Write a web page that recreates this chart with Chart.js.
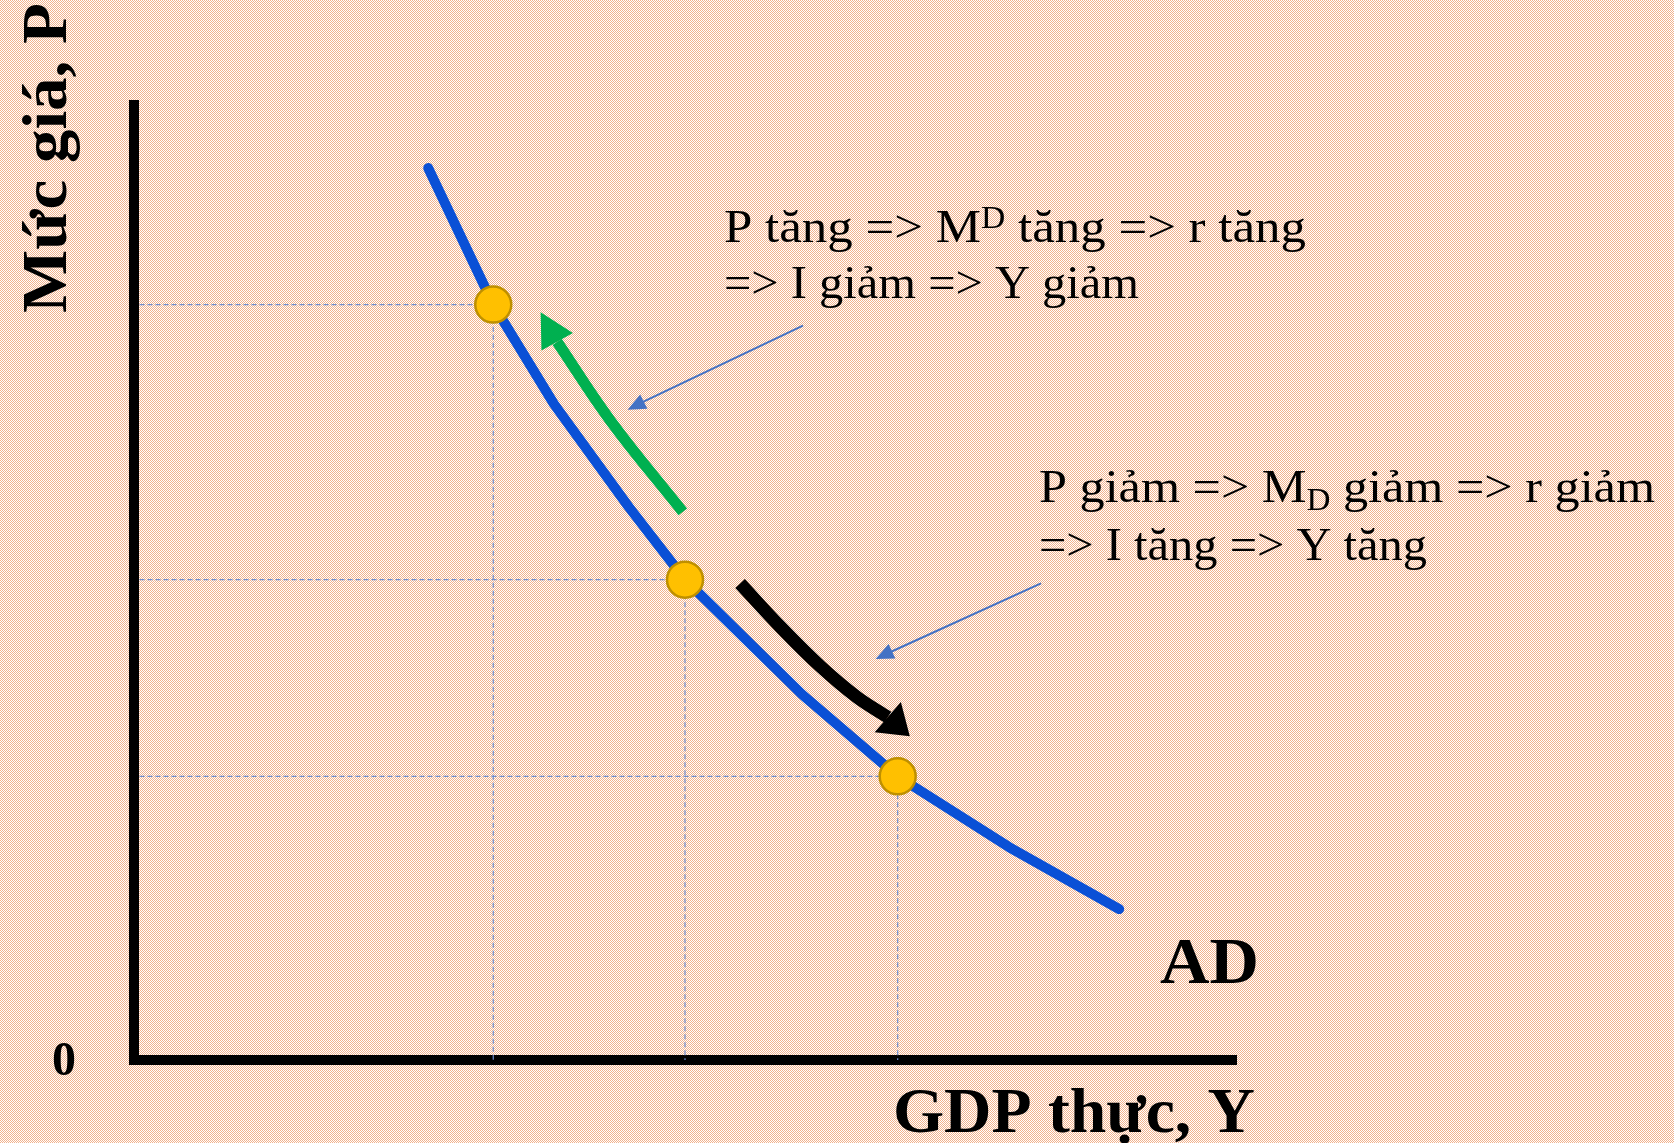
<!DOCTYPE html>
<html><head><meta charset="utf-8">
<script src="https://cdn.jsdelivr.net/npm/chart.js@4.4.1/dist/chart.umd.min.js"></script>
<style>html,body{margin:0;padding:0;overflow:hidden;background:#f9dcc9;}#wrap{width:1674px;height:1143px;}</style>
</head><body><div id="wrap"><canvas id="c" width="1674" height="1143"></canvas></div>
<script>
// ---- data (chart units: x = real GDP, y = price level) ----
const curveX = [26.7, 32.6, 38.1, 44.9, 50.0, 60.6, 69.3, 79.4, 89.4];
const curveY = [93.4, 79.1, 68.7, 57.9, 50.3, 38.3, 29.7, 22.3, 15.8];
const eqX = [32.6, 50.0, 69.3];
const eqY = [79.1, 50.3, 29.7];
const greenX = [49.8, 43.2, 38.4];
const greenY = [57.4, 67.0, 75.2];
const greenTip = [36.9, 78.3];
const blackX = [55.0, 58.7, 62.3, 65.6, 68.4];
const blackY = [49.9, 45.3, 41.2, 38.0, 35.9];
const blackTip = [70.4, 33.9];
const ptr1X = [60.7, 46.0];
const ptr1Y = [76.9, 68.8];
const ptr1Tip = [44.8, 68.1];
const ptr2X = [82.3, 68.6];
const ptr2Y = [49.9, 42.7];
const ptr2Tip = [67.3, 42.0];
const originLabel = '0';
const xTitle = 'GDP thực, Y';
const yTitle = 'Mức giá, P';
const curveLabel = 'AD';
const note1 = [[{t:'P tăng => M'},{t:'D',sup:true},{t:' tăng => r tăng'}], [{t:'=> I giảm => Y giảm'}]];
const note2 = [[{t:'P giảm => M'},{t:'D',sub:true},{t:' giảm => r giảm'}], [{t:'=> I tăng => Y tăng'}]];

const pts = (xs, ys) => xs.map((x, i) => ({x, y: ys[i]}));

// ---- background pattern ----
function makePattern(ctx){
  const t = document.createElement('canvas'); t.width = 2; t.height = 2;
  const g = t.getContext('2d');
  g.fillStyle = '#ffffff'; g.fillRect(0,0,2,2);
  g.fillStyle = '#f2b28c'; g.fillRect(0,0,1,1); g.fillRect(1,1,1,1);
  return ctx.createPattern(t, 'repeat');
}
const bgPlugin = {
  id: 'bg',
  beforeDraw(chart){
    const ctx = chart.ctx; ctx.save();
    ctx.fillStyle = makePattern(ctx);
    ctx.fillRect(0,0,chart.width,chart.height); ctx.restore();
  }
};

// ---- arrow heads ----
const heads = [
  {from:[greenX[greenX.length-1], greenY[greenY.length-1]], tip:greenTip, half:18, color:'#00b050'},
  {from:[blackX[blackX.length-1], blackY[blackY.length-1]], tip:blackTip, half:20, color:'#000000'},
  {from:[ptr1X[1], ptr1Y[1]], tip:ptr1Tip, half:8, color:'#4472c4', len:18},
  {from:[ptr2X[1], ptr2Y[1]], tip:ptr2Tip, half:8, color:'#4472c4', len:18}
];
const headPlugin = {
  id: 'heads',
  afterDatasetsDraw(chart){
    const {ctx, scales:{x, y}} = chart;
    heads.forEach(h => {
      const bx = x.getPixelForValue(h.from[0]), by = y.getPixelForValue(h.from[1]);
      const tx = x.getPixelForValue(h.tip[0]), ty = y.getPixelForValue(h.tip[1]);
      let dx = tx - bx, dy = ty - by; const L = Math.hypot(dx, dy); dx /= L; dy /= L;
      const bl = h.len ? h.len : L;
      const cx = tx - dx*bl, cy = ty - dy*bl;
      ctx.save(); ctx.fillStyle = h.color; ctx.beginPath();
      ctx.moveTo(tx, ty);
      ctx.lineTo(cx - dy*h.half, cy + dx*h.half);
      ctx.lineTo(cx + dy*h.half, cy - dx*h.half);
      ctx.closePath(); ctx.fill(); ctx.restore();
    });
  }
};

// ---- texts ----
const SERIF = '"Liberation Serif", "Times New Roman", serif';
function drawRich(ctx, segs, x, y, size, weight, targetW){
  const fontFor = s => `${weight} ${(s.sup||s.sub) ? Math.round(size*0.66) : size}px ${SERIF}`;
  let w = 0;
  segs.forEach(s => { ctx.font = fontFor(s); w += ctx.measureText(s.t).width; });
  const k = targetW ? targetW / w : 1;
  ctx.save(); ctx.translate(x, y); ctx.scale(k, 1);
  let cx = 0;
  segs.forEach(s => {
    ctx.font = fontFor(s);
    const off = s.sup ? -size*0.3 : (s.sub ? size*0.16 : 0);
    ctx.fillText(s.t, cx, off);
    cx += ctx.measureText(s.t).width;
  });
  ctx.restore();
}
const textPlugin = {
  id: 'texts',
  afterDraw(chart){
    const {ctx} = chart;
    ctx.save(); ctx.fillStyle = '#000'; ctx.textBaseline = 'alphabetic'; ctx.textAlign = 'left';
    drawRich(ctx, note1[0], 724, 242, 47, 'normal', 582);
    drawRich(ctx, note1[1], 724, 298, 47, 'normal', 415);
    drawRich(ctx, note2[0], 1039, 502, 47, 'normal', 616);
    drawRich(ctx, note2[1], 1039, 560, 47, 'normal', 388);
    drawRich(ctx, [{t:curveLabel}], 1160, 983, 66, 'bold', 99);
    ctx.font = `bold 48px ${SERIF}`; ctx.textAlign = 'center';
    ctx.fillText(originLabel, 64, 1075);
    ctx.textAlign = 'left';
    drawRich(ctx, [{t:xTitle}], 893, 1132, 64, 'bold', 362);
    ctx.save(); ctx.translate(66, 313); ctx.rotate(-Math.PI/2);
    drawRich(ctx, [{t:yTitle}], 0, 0, 64, 'bold', 310);
    ctx.restore();
    ctx.restore();
  }
};

const guideSets = eqX.map((ex, i) => ({
  type:'line', data:[{x:0.5, y:eqY[i]}, {x:ex, y:eqY[i]}, {x:ex, y:0}],
  borderColor:'#6f8fd0', borderWidth:1.2, borderDash:[5,3], pointRadius:0, tension:0, order:5
}));

new Chart(document.getElementById('c'), {
  type:'line',
  data:{ datasets:[
    ...guideSets,
    {data:pts(curveX, curveY), borderColor:'#0a50d6', borderWidth:10, pointRadius:0, tension:0,
     borderCapStyle:'round', borderJoinStyle:'round', order:4},
    {data:pts(greenX, greenY), borderColor:'#00b050', borderWidth:11, pointRadius:0, tension:0.4,
     borderCapStyle:'butt', order:2},
    {data:pts(blackX, blackY), borderColor:'#000000', borderWidth:13, pointRadius:0, tension:0.35,
     borderCapStyle:'butt', order:2},
    {data:pts(ptr1X, ptr1Y), borderColor:'#4472c4', borderWidth:2, pointRadius:0, tension:0, order:2},
    {data:pts(ptr2X, ptr2Y), borderColor:'#4472c4', borderWidth:2, pointRadius:0, tension:0, order:2},
    {data:pts(eqX, eqY), showLine:false, pointRadius:18, pointHoverRadius:18,
     pointBackgroundColor:'#ffc000', pointBorderColor:'#bf9000', pointBorderWidth:2.5, order:0}
  ]},
  options:{
    responsive:false, animation:false, events:[],
    layout:{padding:{left:126, top:105, right:438, bottom:75}},
    plugins:{legend:{display:false}, tooltip:{enabled:false}, title:{display:false}},
    scales:{
      x:{type:'linear', min:0, max:100, grid:{display:false}, ticks:{display:false},
         border:{display:true, color:'#000', width:10}},
      y:{type:'linear', min:0, max:100, grid:{display:false}, ticks:{display:false},
         border:{display:true, color:'#000', width:10}}
    }
  },
  plugins:[bgPlugin, headPlugin, textPlugin]
});
</script></body></html>
